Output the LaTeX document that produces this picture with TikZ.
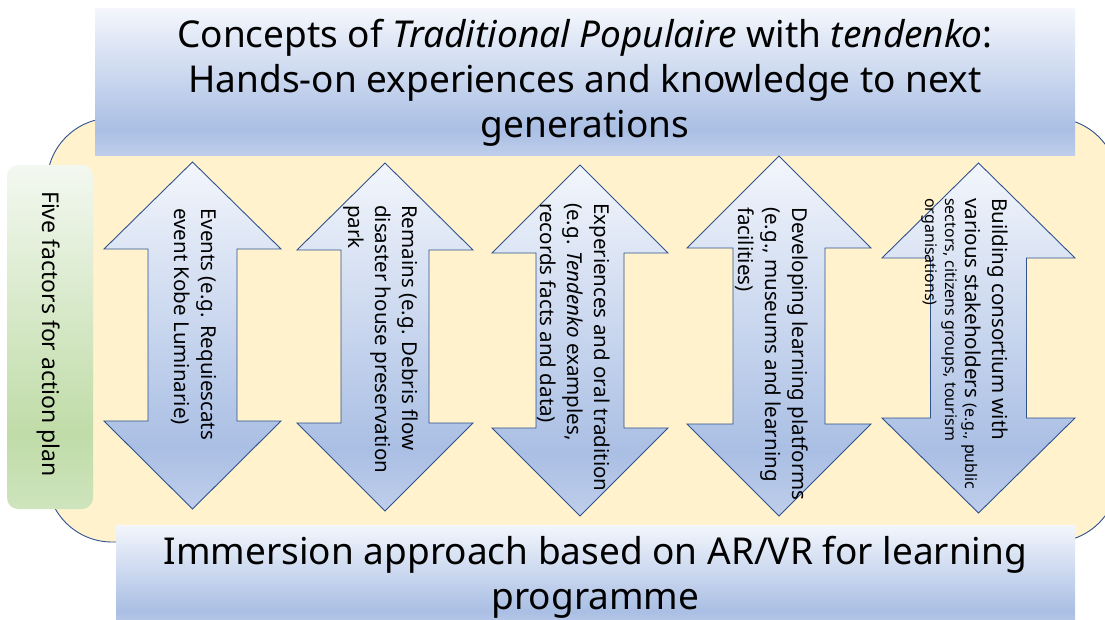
\documentclass[tikz,border=0pt]{standalone}
\usepackage{fontspec}
\setmainfont{Noto Sans}

% colour palette
\definecolor{creamfill}{HTML}{FFF2CC}
\definecolor{edgeblue}{HTML}{2F528F}
\definecolor{blueTop}{HTML}{F3F6FC}
\definecolor{blueMid}{HTML}{AABFE4}
\definecolor{blueLow}{HTML}{BFCEEB}
\definecolor{greenTop}{HTML}{F3F8F0}
\definecolor{greenMid}{HTML}{C0DCA8}
\definecolor{greenLow}{HTML}{CEE4BD}

% vertical gradients: 25bp = bottom edge, 75bp = top edge
\pgfdeclareverticalshading{bluegrad}{100bp}{color(0bp)=(blueLow); color(25bp)=(blueLow); color(34bp)=(blueMid); color(75bp)=(blueTop); color(100bp)=(blueTop)}
\pgfdeclareverticalshading{greengrad}{100bp}{color(0bp)=(greenLow); color(25bp)=(greenLow); color(36bp)=(greenMid); color(75bp)=(greenTop); color(100bp)=(greenTop)}

% vertical double-headed block arrow:
% #1 centre x, #2 top tip, #3 upper head base, #4 half head width,
% #5 half shaft width, #6 lower head base, #7 bottom tip
\newcommand{\vdoublearrow}[7]{%
  \shadedraw[blockarrow] (#1,#2) -- (#1+#4,#3) -- (#1+#5,#3) -- (#1+#5,#6)
    -- (#1+#4,#6) -- (#1,#7) -- (#1-#4,#6) -- (#1-#5,#6) -- (#1-#5,#3)
    -- (#1-#4,#3) -- cycle;}

\begin{document}
\begin{tikzpicture}[x=1pt,y=-1pt,
  banner/.style={shading=bluegrad},
  blockarrow/.style={shading=bluegrad, draw=edgeblue, line width=0.9pt, line join=miter},
  bannertext/.style={align=center, inner sep=0pt, anchor=north,
    font=\fontsize{37}{45}\selectfont},
  arrowtext/.style={rotate=-90, align=left, inner sep=0pt, anchor=north west,
    font=\fontsize{20.5}{27}\selectfont},
  smalltext/.style={rotate=-90, align=left, inner sep=0pt, anchor=north west,
    font=\fontsize{16}{20}\selectfont},
  sidetext/.style={rotate=-90, inner sep=0pt, font=\fontsize{23}{28}\selectfont}]

\useasboundingbox (0,0) rectangle (1105,620);

% cream background panel
\draw[fill=creamfill, draw=edgeblue, line width=0.9pt, rounded corners=65pt]
  (47,118) rectangle (1118,542);

% headline banners
\shade[banner] (95,9) rectangle (1075,156);
\shade[banner] (116,525) rectangle (1075,630);

% side label box
\shade[shading=greengrad, rounded corners=11pt] (7,165) rectangle (93,509);

% the five factors
\vdoublearrow{192.5}{162}{249}{88.5}{44.5}{421}{509}
\vdoublearrow{385}{163}{250}{88}{44}{423}{511}
\vdoublearrow{580}{165}{253}{88}{44}{428}{516}
\vdoublearrow{779}{156}{248}{92}{46}{424}{516}
\vdoublearrow{978.5}{163}{258}{96.5}{48}{418}{513}

% texts
\node[bannertext] (title) at (585,15.5)
  {\strut Concepts of \textit{Traditional Populaire} with \textit{tendenko}:\\
   Hands-on experiences and knowledge to next\\generations};
\node[bannertext] (approach) at (595.5,532.5)
  {\strut Immersion approach based on AR/VR for learning\\programme};

\node[sidetext] (factors) at (49,334) {Five factors for action plan};

\node[arrowtext] (events) at (220.9,208)
  {\strut Events (e.g. Requiescats\\event Kobe Luminarie)};
\node[arrowtext] (remains) at (421.9,205)
  {\strut Remains (e.g. Debris flow\\disaster house preservation\\park};
\node[arrowtext] (experiences) at (613.9,203)
  {\strut Experiences and oral tradition\\(e.g. \textit{Tendenko} examples,\\records facts and data)};
\node[arrowtext] (platforms) at (811.9,207)
  {\strut Developing learning platforms\\(e.g., museums and learning\\facilities)};
\node[arrowtext] (consortium) at (1011.9,198)
  {\strut Building consortium with\\various stakeholders {\fontsize{16}{20}\selectfont (e.g., public}};
\node[smalltext] (consortiumnote) at (960,198)
  {\strut sectors, citizens groups, tourism\\organisations)};

\end{tikzpicture}
\end{document}
